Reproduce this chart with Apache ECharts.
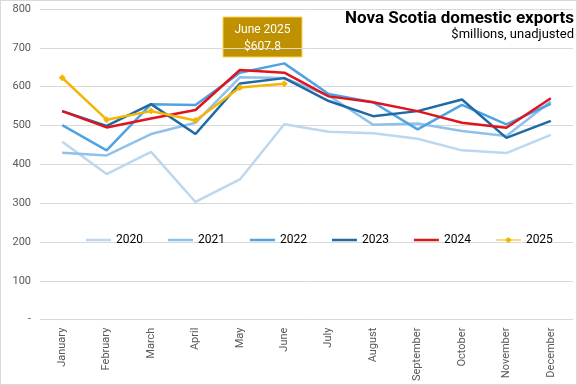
<!DOCTYPE html>
<html><head><meta charset="utf-8">
<script src="https://cdn.jsdelivr.net/npm/echarts@6/dist/echarts.min.js"></script>
<style>html,body{margin:0;padding:0;background:#fff}#c{width:577px;height:385px;box-sizing:border-box;border:1px solid #d9d9d9}</style>
</head><body><div id="c"></div>
<script>
const months = ["January","February","March","April","May","June","July","August","September","October","November","December"];
const y2020 = [458,375,432,303,361,503,484,480,466,436,429,476];
const y2021 = [430,423,478,507,624,622,577,502,505,486,473,562];
const y2022 = [501,436,555,553,636,660,581,560,490,553,503,556];
const y2023 = [537,499,555,478,608,622,563,524,537,567,468,512];
const y2024 = [537,495,518,540,643,636,575,560,537,507,494,570];
const y2025 = [623,515,537,513,598,607.8];
const years = ['2020','2021','2022','2023','2024','2025'];

const font = "Roboto,'Liberation Sans',Arial,sans-serif";
const lineIcon = 'path://M0,0H25V2.5H0Z';
const diamondIcon = 'path://M0,2.5H9.5L12.5,0L15.5,2.5H25V3.5H15.5L12.5,6L9.5,3.5H0Z';
const chart = echarts.init(document.getElementById('c'));
function line(name, data, color, extra) {
  return Object.assign({name, type:'line', data, symbol:'none', lineStyle:{width:2.5,color}, itemStyle:{color}, z:2}, extra||{});
}
chart.setOption({
  animation:false,
  textStyle:{fontFamily:font},
  grid:{left:39,right:3,top:8,bottom:62},
  legend:{top:228,left:80,width:490,itemWidth:25,itemHeight:10,itemGap:25,symbolKeepAspect:true,
    textStyle:{fontSize:12,color:'#000',fontFamily:font},
    data:years.map((y,i)=>({name:y,icon:i===5?diamondIcon:lineIcon}))},
  xAxis:{type:'category',data:months,boundaryGap:true,
    axisLine:{lineStyle:{color:'#d9d9d9'}},axisTick:{show:false},
    axisLabel:{rotate:90,fontSize:11,color:'#595959',interval:0,margin:8,fontFamily:font}},
  yAxis:{type:'value',min:0,max:800,interval:100,
    axisLine:{show:false},axisTick:{show:false},
    splitLine:{lineStyle:{color:'#d9d9d9'}},
    axisLabel:{fontSize:11,color:'#595959',margin:9,fontFamily:font,
      formatter:v=>v===0?'-':String(v)}},
  series:[
    line(years[0],y2020,'#BDD7EE'),
    line(years[1],y2021,'#8FC1EA'),
    line(years[2],y2022,'#4FA3E3'),
    line(years[3],y2023,'#1F6AA5'),
    line(years[4],y2024,'#E0141E'),
    line(years[5],y2025,'#F2B705',{symbol:'diamond',symbolSize:7,showSymbol:true,z:3})
  ],
  graphic:[
    {type:'text',x:573,y:9,style:{text:'Nova Scotia domestic exports',fill:'#000',font:'bold 17px '+font,align:'right',verticalAlign:'top'}},
    {type:'text',x:573,y:27,style:{text:'$millions, unadjusted',fill:'#000',font:'13px '+font,align:'right',verticalAlign:'top'}},
    {type:'rect',x:222,y:16,shape:{width:79,height:40},style:{fill:'#BF9000',stroke:'#FFD24D',lineWidth:1}},
    {type:'text',x:261.5,y:20,style:{text:'June 2025\n$607.8',fill:'#fff',font:'12px '+font,align:'center',verticalAlign:'top',lineHeight:17}}
  ]
});
</script></body></html>
